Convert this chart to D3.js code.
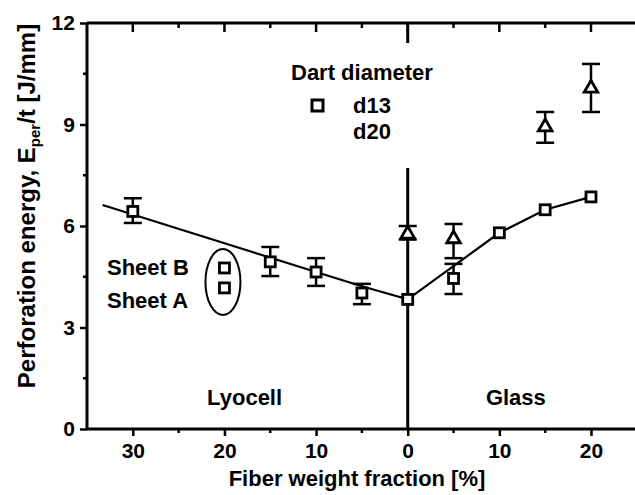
<!DOCTYPE html>
<html>
<head>
<meta charset="utf-8">
<script src="https://cdn.jsdelivr.net/npm/d3@7"></script>
<style>
  body { margin: 0; background: #fff; }
  text { font-family: "Liberation Sans", Arial, sans-serif; font-weight: bold; fill: #000; }
</style>
</head>
<body>
<div id="chart"></div>
<script>
// fiber fraction on a signed axis: lyocell < 0, glass > 0
const d13X = [-30, -15, -10, -5, 0, 5, 10, 15, 20];
const d13Y = [6.43, 4.94, 4.64, 4.02, 3.83, 4.45, 5.8, 6.48, 6.86];
const d13Lo = [6.09, 4.52, 4.23, 3.69, null, 3.99, null, null, null];
const d13Hi = [6.82, 5.38, 5.05, 4.29, null, 4.88, null, null, null];

const d20X = [0, 5, 15, 20];
const d20Y = [5.79, 5.65, 8.96, 10.1];
const d20Lo = [5.6, 5.05, 8.46, 9.37];
const d20Hi = [6.0, 6.06, 9.37, 10.79];

const sheetNames = ['Sheet B', 'Sheet A'];
const sheetX = -20;
const sheetY = [4.76, 4.17];

const lineX = [-33.3, -10, -5, 0, 10, 15, 20];
const lineY = [6.62, 4.64, 4.22, 3.83, 5.8, 6.48, 6.86];

const xMajor = [-30, -20, -10, 0, 10, 20];
const xMinor = [-25, -15, -5, 5, 15];
const yMajor = [0, 3, 6, 9, 12];
const yMinor = [1.5, 4.5, 7.5, 10.5];

const w = 635, h = 495;
const padLeft = 87, padTop = 23, axisY = 429;

const svg = d3.select('#chart').append('svg')
  .attr('width', w)
  .attr('height', h);

const x = d3.scaleLinear().domain([-35, 25]).range([padLeft, 636.8]);
const y = d3.scaleLinear().domain([0, 12]).range([axisY, padTop]);

const fs = 22;

// axes
const xAxis = d3.axisBottom(x).tickValues(xMajor).tickSize(7)
  .tickFormat(d => Math.abs(d));
const gx = svg.append('g')
  .attr('transform', 'translate(0,' + axisY + ')')
  .call(xAxis);
gx.selectAll('.tick text').attr('font-size', 21).attr('dy', '0.9em');
gx.append('g').selectAll('line').data(xMinor).enter().append('line')
  .attr('x1', d => x(d)).attr('x2', d => x(d)).attr('y1', 0).attr('y2', 4);

const yAxis = d3.axisLeft(y).tickValues(yMajor).tickSize(7);
const gy = svg.append('g')
  .attr('transform', 'translate(' + padLeft + ',0)')
  .call(yAxis);
gy.selectAll('.tick text').attr('font-size', 21).attr('dx', '-0.1em');
gy.append('g').selectAll('line').data(yMinor).enter().append('line')
  .attr('y1', d => y(d)).attr('y2', d => y(d)).attr('x1', 0).attr('x2', -4);

const gt = svg.append('g');
gt.append('line').attr('x1', padLeft).attr('x2', w).attr('y1', padTop).attr('y2', padTop);
gt.selectAll('.maj').data(xMajor).enter().append('line')
  .attr('x1', d => x(d)).attr('x2', d => x(d)).attr('y1', padTop).attr('y2', padTop + 9);
gt.selectAll('.min').data(xMinor).enter().append('line')
  .attr('x1', d => x(d)).attr('x2', d => x(d)).attr('y1', padTop).attr('y2', padTop + 5);

svg.selectAll('line').attr('stroke', '#000').attr('stroke-width', 2.5);
gx.select('.domain').attr('d', 'M' + padLeft + ',0H' + w).attr('stroke-width', 3);
gy.select('.domain').attr('d', 'M0,' + y(0) + 'V' + y(12)).attr('stroke-width', 3);
gt.select('line').attr('stroke-width', 3);

// divider between lyocell and glass
svg.append('line')
  .attr('x1', x(0)).attr('x2', x(0))
  .attr('y1', padTop).attr('y2', axisY)
  .attr('stroke', '#000').attr('stroke-width', 3);

// fitted line
const line = d3.line().x(d => x(d[0])).y(d => y(d[1]));
svg.append('path')
  .datum(lineX.map((v, i) => [v, lineY[i]]))
  .attr('d', line)
  .attr('fill', 'none')
  .attr('stroke', '#000')
  .attr('stroke-width', 2.2);

function errorBars(xs, lo, hi) {
  const g = svg.append('g').attr('stroke', '#000').attr('stroke-width', 2.5);
  xs.forEach((v, i) => {
    if (lo[i] == null) return;
    g.append('line').attr('x1', x(v)).attr('x2', x(v)).attr('y1', y(lo[i])).attr('y2', y(hi[i]));
    [lo[i], hi[i]].forEach(e => {
      g.append('line').attr('x1', x(v) - 9).attr('x2', x(v) + 9).attr('y1', y(e)).attr('y2', y(e));
    });
  });
}
errorBars(d13X, d13Lo, d13Hi);
errorBars(d20X, d20Lo, d20Hi);

const sq = 10;
function squares(xs, ys) {
  svg.append('g').selectAll('rect')
    .data(xs.map((v, i) => [v, ys[i]]))
    .enter().append('rect')
    .attr('x', d => x(d[0]) - sq / 2)
    .attr('y', d => y(d[1]) - sq / 2)
    .attr('width', sq).attr('height', sq)
    .attr('fill', '#fff').attr('stroke', '#000').attr('stroke-width', 2.8);
}
squares(d13X, d13Y);
squares(sheetY.map(() => sheetX), sheetY);

const tri = d3.symbol().type(d3.symbolTriangle).size(80);
svg.append('g').selectAll('path')
  .data(d20X.map((v, i) => [v, d20Y[i]]))
  .enter().append('path')
  .attr('d', tri)
  .attr('transform', d => 'translate(' + x(d[0]) + ',' + (y(d[1]) + 1) + ')')
  .attr('fill', '#fff').attr('stroke', '#000').attr('stroke-width', 2.8);

// ellipse around the two sheets
const midSheet = (sheetY[0] + sheetY[1]) / 2;
svg.append('ellipse')
  .attr('cx', x(sheetX) - 1.5)
  .attr('cy', y(midSheet - 0.12))
  .attr('rx', 17.5)
  .attr('ry', 33)
  .attr('fill', 'none').attr('stroke', '#000').attr('stroke-width', 2);

svg.selectAll('.sheet').data(sheetNames).enter().append('text')
  .attr('x', 107)
  .attr('y', (d, i) => i === 0 ? 275 : 308)
  .attr('font-size', fs)
  .text(d => d);

// region labels
svg.append('text').attr('x', x(-17.8)).attr('y', 405).attr('text-anchor', 'middle')
  .attr('font-size', fs).text('Lyocell');
svg.append('text').attr('x', x(11.8)).attr('y', 405).attr('text-anchor', 'middle')
  .attr('font-size', fs).text('Glass');

// legend, white box hides the divider
const legend = svg.append('g');
legend.append('rect').attr('x', 288).attr('y', 43).attr('width', 152).attr('height', 125).attr('fill', '#fff');
legend.append('text').attr('x', 291).attr('y', 80).attr('font-size', fs).text('Dart diameter');
legend.append('rect').attr('x', 312).attr('y', 100).attr('width', 11).attr('height', 11)
  .attr('fill', '#fff').attr('stroke', '#000').attr('stroke-width', 3);
legend.append('text').attr('x', 353).attr('y', 113).attr('font-size', fs).text('d13');
legend.append('text').attr('x', 353).attr('y', 139).attr('font-size', fs).text('d20');

// axis titles
svg.append('text')
  .attr('x', 357).attr('y', 486)
  .attr('text-anchor', 'middle')
  .attr('font-size', 22)
  .text('Fiber weight fraction [%]');

const yt = svg.append('text')
  .attr('transform', 'translate(35,206) rotate(-90)')
  .attr('text-anchor', 'middle')
  .attr('font-size', 24);
yt.append('tspan').text('Perforation energy, E');
yt.append('tspan').attr('font-size', 15).attr('dy', 5).text('per');
yt.append('tspan').attr('dy', -5).text('/t [J/mm]');
</script>
</body>
</html>
